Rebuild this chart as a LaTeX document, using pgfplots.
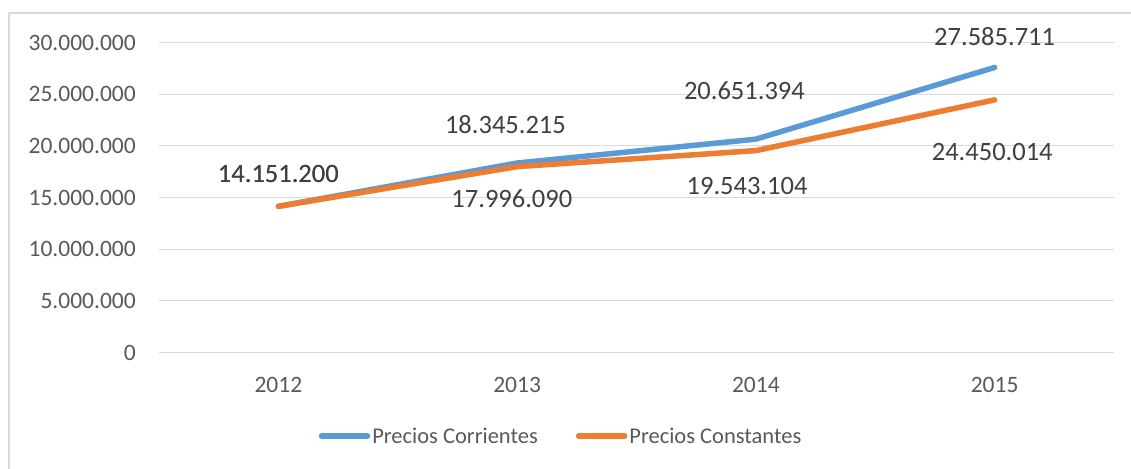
\documentclass[border=0pt]{standalone}
\usepackage{pgfplots}
\pgfplotsset{compat=1.18}
\usepackage{fontspec}
\setmainfont{Carlito}
\definecolor{cblue}{HTML}{5B9BD5}
\definecolor{corange}{HTML}{ED7D31}
\definecolor{gridc}{HTML}{D9D9D9}
\definecolor{tickc}{HTML}{595959}
\definecolor{labc}{HTML}{404040}
\begin{document}
\begin{tikzpicture}
\begin{axis}[
  at={(0pt,0pt)}, anchor=south west,
  scale only axis, width=955pt, height=310.2pt,
  xmin=-0.5, xmax=3.5, ymin=0, ymax=30000000,
  xtick={0,1,2,3}, xticklabels={2012,2013,2014,2015},
  ytick={0,5000000,10000000,15000000,20000000,25000000,30000000},
  scaled y ticks=false,
  /pgf/number format/fixed, /pgf/number format/precision=0,
  /pgf/number format/1000 sep={.}, /pgf/number format/assume math mode=true,
  ymajorgrids, major grid style={color=gridc, line width=1pt},
  axis line style={draw=none}, major tick length=0pt,
  tick label style={font=\fontsize{23.5}{27}\selectfont, text=tickc},
  yticklabel style={anchor=east, inner sep=0pt, xshift=-23pt},
  xticklabel style={anchor=north, inner sep=0pt, yshift=-24pt},
  clip=false,
  legend style={draw=none, fill=none, at={(0.421,-0.2686)}, anchor=center,
    font=\fontsize{22.5}{26}\selectfont, text=tickc,
    /tikz/every even column/.append style={column sep=36pt},
    inner sep=0pt, cells={anchor=west}},
  legend columns=2,
  legend image code/.code={\draw[#1, line cap=round] (3pt,0pt) -- (49pt,0pt);},
]
\addplot[cblue, line width=5.5pt, line join=round, line cap=round] coordinates {
  (0,14151200) (1,18345215) (2,20651394) (3,27585711)};
\addlegendentry{Precios Corrientes}
\addplot[corange, line width=5.5pt, line join=round, line cap=round] coordinates {
  (0,14151200) (1,17996090) (2,19543104) (3,24450014)};
\addlegendentry{Precios Constantes}
\begin{scope}[every node/.style={font=\fontsize{26.5}{30}\selectfont, text=labc}]
\node at (axis cs:0,17280000) {14.151.200};
\node at (axis cs:0,17280000) {14.151.200};
\node at (axis cs:0.951,22020000) {18.345.215};
\node at (axis cs:0.978,14930000) {17.996.090};
\node at (axis cs:1.952,25340000) {20.651.394};
\node at (axis cs:1.963,16150000) {19.543.104};
\node at (axis cs:3.0,30560000) {27.585.711};
\node at (axis cs:2.99,19440000) {24.450.014};
\end{scope}
\end{axis}
\draw[gridc, line width=1.2pt] (-150pt,339.7pt) rectangle (1000pt,-200pt);
\pgfresetboundingbox
\useasboundingbox (-159pt,-115.3pt) rectangle (972pt,352.7pt);
\end{tikzpicture}
\end{document}
